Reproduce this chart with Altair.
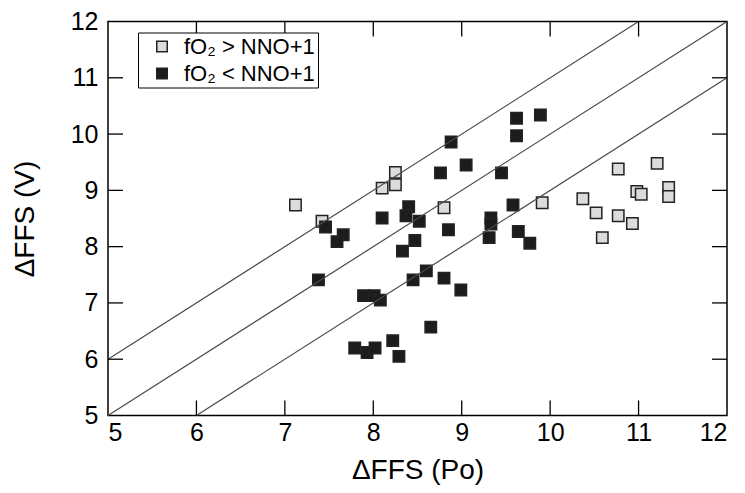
import altair as alt
import pandas as pd

# ---- data ----
gray_x = [7.12, 7.42, 8.10, 8.25, 8.25, 8.80, 9.91, 10.37, 10.52, 10.59,
          10.77, 10.77, 10.93, 10.98, 11.03, 11.21, 11.34, 11.34]
gray_y = [8.74, 8.45, 9.04, 9.32, 9.10, 8.69, 8.78, 8.85, 8.60, 8.16,
          8.55, 9.38, 8.41, 8.98, 8.93, 9.48, 9.05, 8.89]

black_x = [9.62, 9.89, 9.62, 8.88, 9.05, 8.76, 9.45, 7.46, 7.66, 7.59,
           8.10, 8.40, 8.37, 8.52, 8.85, 8.47, 8.33, 9.33, 9.33, 9.31,
           9.58, 9.64, 9.77, 7.38, 8.60, 8.45, 8.80, 8.99, 7.89, 8.01,
           8.08, 8.65, 8.22, 8.29, 7.79, 7.93, 8.02]
black_y = [10.28, 10.34, 9.97, 9.86, 9.45, 9.31, 9.31, 8.35, 8.21, 8.09,
           8.51, 8.71, 8.55, 8.45, 8.30, 8.11, 7.92, 8.51, 8.40, 8.16,
           8.74, 8.27, 8.06, 7.41, 7.57, 7.41, 7.44, 7.23, 7.13, 7.13,
           7.05, 6.57, 6.33, 6.05, 6.20, 6.12, 6.20]

series_labels = ["fO\u2082 > NNO+1", "fO\u2082 < NNO+1"]
series_fill = ["#dcdcdc", "#1c1c1c"]

x_ticks = [5, 6, 7, 8, 9, 10, 11, 12]
y_ticks = [5, 6, 7, 8, 9, 10, 11, 12]
inner_x_ticks = [6, 7, 8, 9, 10, 11]
inner_y_ticks = [6, 7, 8, 9, 10, 11]

# reference lines y = x + offset
line_offsets = [1, 0, -1]
line_x_start = [5, 5, 6]
line_x_end = [11, 12, 12]

W, H = 619, 394
FONT = "Liberation Sans, Arial, Helvetica, sans-serif"
TICK = 15

points = pd.DataFrame({
    "x": gray_x + black_x,
    "y": gray_y + black_y,
    "group": [series_labels[0]] * len(gray_x) + [series_labels[1]] * len(black_x),
    "order": [0] * len(gray_x) + [1] * len(black_x),
})
lines = pd.DataFrame({
    "x": line_x_start,
    "x2": line_x_end,
    "y": [a + o for a, o in zip(line_x_start, line_offsets)],
    "y2": [b + o for b, o in zip(line_x_end, line_offsets)],
})
xt = pd.DataFrame({"x": inner_x_ticks})
yt = pd.DataFrame({"y": inner_y_ticks})

xs = alt.Scale(domain=[5, 12], nice=False, zero=False)
ys = alt.Scale(domain=[5, 12], nice=False, zero=False)
x_axis = alt.Axis(values=x_ticks, title="\u0394FFS (Po)", labelPadding=5,
                  titlePadding=11, format="d")
y_axis = alt.Axis(values=y_ticks, title="\u0394FFS (V)", labelPadding=10,
                  titlePadding=31, format="d")


def X(field="x"):
    return alt.X(f"{field}:Q", scale=xs, axis=x_axis, title="\u0394FFS (Po)")


def Y(field="y"):
    return alt.Y(f"{field}:Q", scale=ys, axis=y_axis, title="\u0394FFS (V)")


pts = alt.Chart(points).mark_point(
    shape="square", filled=True, size=130, stroke="#222222",
    strokeWidth=1.5, opacity=1, fillOpacity=1
).encode(
    x=X(), y=Y(),
    fill=alt.Fill("group:N",
                  scale=alt.Scale(domain=series_labels, range=series_fill),
                  legend=alt.Legend(
                      title=None, orient="none", legendX=30, legendY=11,
                      strokeColor="black", fillColor="white", padding=3,
                      symbolOffset=10, symbolSize=110, symbolType="square",
                      symbolStrokeColor="#222222", symbolStrokeWidth=1.5,
                      labelFontSize=22, labelFont=FONT, labelColor="black",
                      labelOffset=11, rowPadding=5, zindex=1)),
    order=alt.Order("order:Q"),
)

diag = alt.Chart(lines).mark_rule(color="#4a4a4a", strokeWidth=1.2).encode(
    x=X(), x2="x2:Q", y=Y(), y2="y2:Q",
)

bottom_ticks = alt.Chart(xt).mark_rule(color="black", strokeWidth=1.3).encode(
    x=X(), y=alt.value(H), y2=alt.value(H - TICK))
top_ticks = alt.Chart(xt).mark_rule(color="black", strokeWidth=1.3).encode(
    x=X(), y=alt.value(0), y2=alt.value(TICK))
left_ticks = alt.Chart(yt).mark_rule(color="black", strokeWidth=1.3).encode(
    y=Y(), x=alt.value(0), x2=alt.value(TICK))
right_ticks = alt.Chart(yt).mark_rule(color="black", strokeWidth=1.3).encode(
    y=Y(), x=alt.value(W), x2=alt.value(W - TICK))

chart = alt.layer(
    pts, diag, bottom_ticks, top_ticks, left_ticks, right_ticks
).properties(
    width=W, height=H,
    autosize=alt.AutoSizeParams(type="none"),
    padding={"left": 100, "top": 13.5, "right": 8, "bottom": 74},
    background="white",
).configure_view(
    stroke="black", strokeWidth=1.5
).configure_axis(
    domain=False, ticks=False, grid=False,
    labelFontSize=25, titleFontSize=28, labelFont=FONT, titleFont=FONT,
    titleFontWeight="normal", labelColor="black", titleColor="black",
)

chart.save("out.html", embed_options={"renderer": "svg", "actions": False})
